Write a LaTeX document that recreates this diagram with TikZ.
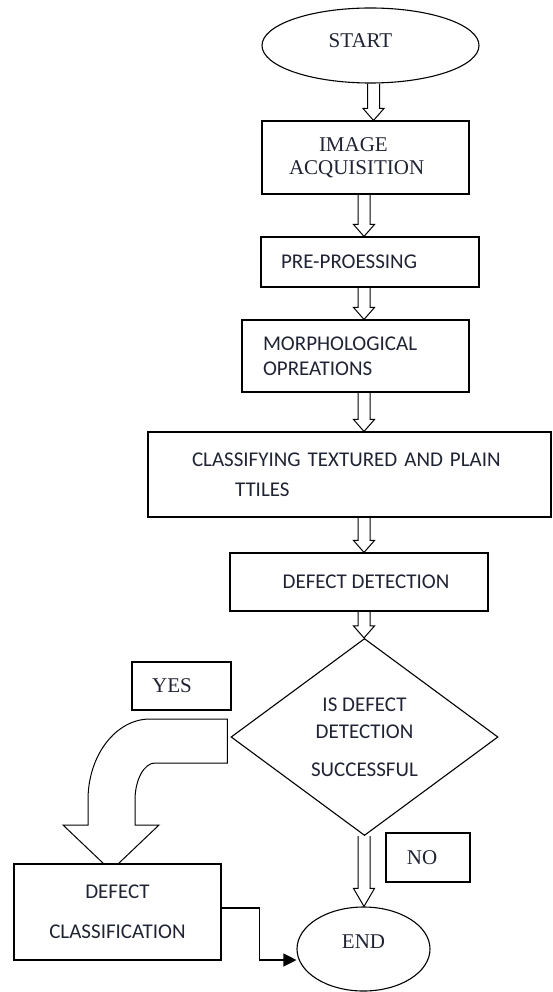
\documentclass[tikz,border=0pt]{standalone}
\usepackage{fontspec}
\setmainfont{Liberation Serif}
\newfontfamily\calibfont{Carlito}
\usetikzlibrary{shapes.geometric}
\usetikzlibrary{calc}
\usetikzlibrary{arrows.meta}
\definecolor{inkblue}{HTML}{1F2333}
\tikzstyle{serifbox} = [draw, rectangle, line width=1.1pt, text=inkblue, font=\fontsize{21}{23}\selectfont]
\tikzstyle{sansbox} = [draw, rectangle, line width=1.1pt, text=inkblue, align=left, font=\calibfont\fontsize{21}{25}\selectfont]
\tikzstyle{terminal} = [draw, ellipse, line width=1.1pt, inner sep=0pt, text=inkblue, font=\fontsize{21}{25}\selectfont]
\tikzstyle{decision} = [draw, diamond, line width=1.1pt, inner sep=0pt, text=inkblue, align=center, font=\calibfont\fontsize{21}{25}\selectfont]
% hollow block arrow: [head length]{from}{to}
\newcommand{\blockarrow}[3][12]{%
	\draw[line width=1pt] ($(#2)+(-6,0)$) -- ($(#3)+(-6,-#1)$) -- ($(#3)+(-10.5,-#1)$) -- (#3) -- ($(#3)+(10.5,-#1)$) -- ($(#3)+(6,-#1)$) -- ($(#2)+(6,0)$);
}

\begin{document}
\begin{tikzpicture}[x=1pt,y=-1pt]
			\useasboundingbox (0,0) rectangle (552,992);
			\node[terminal, minimum width=217pt, minimum height=75pt, text depth=9pt] (start) at (370.5,45.5) {START\hspace*{20pt}};
			\node[serifbox, minimum width=207pt, minimum height=73pt, text width=153pt, inner xsep=27pt, align=left] (img) at (365.5,157.5) {\hspace*{30pt}IMAGE\\ACQUISITION};
			\node[sansbox, minimum width=218pt, minimum height=50pt, text width=178pt, inner xsep=20pt] (pre) at (370,262) {PRE-PROESSING};
			\node[sansbox, minimum width=227pt, minimum height=72pt, text width=185pt, inner xsep=21pt] (morph) at (355.5,356) {MORPHOLOGICAL\\OPREATIONS};
			\node[sansbox, minimum width=403pt, minimum height=85pt, text width=315pt, inner xsep=44pt] (classify) at (349.5,474.5) {CLASSIFYING TEXTURED AND PLAIN\\[5pt]\hspace*{43pt}TTILES};
			\node[sansbox, minimum width=258pt, minimum height=58pt, align=center] (detect) at (359,582) {\hspace*{14pt}DEFECT DETECTION};
			\node[decision, minimum width=267pt, minimum height=197pt] (dec) at (364.5,737) {IS DEFECT\\[2pt]DETECTION\\[13pt]SUCCESSFUL};
			\node[serifbox, minimum width=99pt, minimum height=48pt] (yes) at (181.5,686) {YES\hspace*{19pt}};
			\node[serifbox, minimum width=84pt, minimum height=49pt] (no) at (428,857.5) {NO\hspace*{12pt}};
			\node[sansbox, minimum width=207pt, minimum height=96pt, align=center] (classif) at (117.5,912) {DEFECT\\[15pt]CLASSIFICATION};
			\node[terminal, minimum width=133pt, minimum height=84pt, text depth=14pt] (finish) at (363.5,949) {END};
			% arrow axes
			\coordinate (spineA) at (373.5,0);
			\coordinate (spine) at (364,0);
			\blockarrow{start.south -| spineA}{img.north -| spineA}
			\blockarrow{img.south -| spine}{pre.north -| spine}
			\blockarrow{pre.south -| spine}{morph.north -| spine}
			\blockarrow{morph.south -| spine}{classify.north -| spine}
			\blockarrow{classify.south -| spine}{detect.north -| spine}
			\blockarrow{detect.south -| spine}{dec.north -| spine}
			\blockarrow[18]{dec.south -| spine}{finish.north -| spine}
			% yes branch
			\draw[line width=1pt] ($(dec.west)+(-3,-18)$) -- (150,719) .. controls (116,719) and (88,755) .. (88,800) -- (88,825) -- (63,825) -- (104,864) -- (118,864) -- (159,825) -- (135,825) -- (135,800) .. controls (135,780) and (144,763) .. (155,763) -- ($(dec.west)+(-3,26)$) -- cycle;
			\draw[line width=1.1pt,-{Triangle[length=13pt,width=13pt]}] ([yshift=4pt]classif.east) -- ++(38,0) |- ([yshift=-11pt]finish.west);
		\end{tikzpicture}
\end{document}
